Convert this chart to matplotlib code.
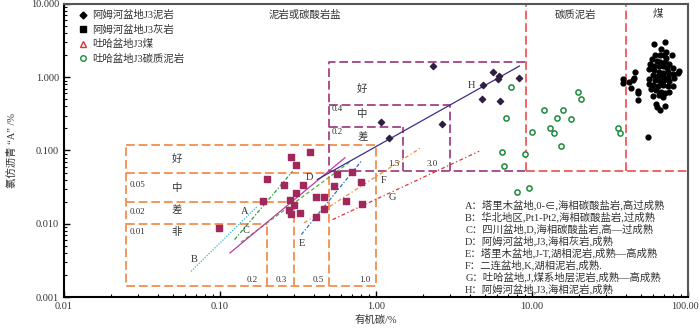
import matplotlib.pyplot as plt
from matplotlib.lines import Line2D
from matplotlib.ticker import LogLocator, FuncFormatter, NullFormatter
from matplotlib.transforms import ScaledTranslation

plt.rcParams['font.family'] = ['Liberation Serif', 'Noto Sans CJK SC']
plt.rcParams['axes.unicode_minus'] = False

# 阿姆河盆地J3泥岩 (diamonds)
mud_toc = [2.31, 5.65, 6.11, 6.01, 8.23, 4.87, 4.75, 6.26, 1.08, 2.65, 1.22]
mud_a = [1.41, 1.17, 1.04, 0.947, 0.975, 0.778, 0.506, 0.479, 0.244, 0.232, 0.15]

# 阿姆河盆地J3灰岩 (squares)
lime_toc = [0.285, 0.379, 0.305, 0.199, 0.256, 0.338, 0.305, 0.412, 0.466, 0.188, 0.279, 0.297,
            0.278, 0.287, 0.326, 0.412, 0.463, 0.099, 0.562, 0.535, 0.642, 0.705, 0.805, 0.81]
lime_a = [0.082, 0.096, 0.0624, 0.041, 0.0343, 0.0333, 0.026, 0.0233, 0.0233, 0.0207, 0.0209, 0.0179,
          0.0156, 0.0137, 0.0142, 0.0124, 0.016, 0.0088, 0.047, 0.0325, 0.0206, 0.0512, 0.0371, 0.0185]

# 吐哈盆地J3碳质泥岩 (open circles)
cm_toc = [7.33, 19.7, 20.6, 11.9, 15.7, 14.4, 6.81, 17.7, 13.0, 10.0, 13.9, 35.4, 36.5, 15.3,
          6.38, 9.06, 6.58, 7.96, 9.62]
cm_a = [0.733, 0.634, 0.508, 0.36, 0.352, 0.28, 0.274, 0.265, 0.204, 0.18, 0.171, 0.2, 0.175, 0.115,
        0.096, 0.089, 0.0618, 0.0267, 0.0312]

# 吐哈盆地J3煤 (black dots)
coal_toc = [60.8, 71.2, 67.1, 72.2, 61.7, 66.4, 78.8, 69.8, 72.2, 58.8, 63.6, 66.4, 71.2, 75.9,
            57.3, 60.8, 64.9, 69.2, 73.3, 80.5, 88.0, 85.8, 56.5, 60.8, 64.9, 68.7, 74.0, 79.6,
            59.3, 63.8, 68.7, 74.0, 81.7, 56.5, 61.7, 66.1, 70.5, 75.9, 56.0, 59.3, 63.8, 68.7,
            74.0, 79.6, 57.9, 62.3, 67.1, 71.4, 75.9, 59.9, 64.9, 69.5, 62.3, 63.2, 66.4, 71.2,
            38.1, 38.1, 41.6, 44.2, 45.9, 44.8, 43.1, 47.5, 47.5, 48.0, 55.1]
coal_a = [2.85, 3.03, 2.46, 2.24, 2.02, 2.02, 2.02, 1.98, 1.82, 1.76, 1.69, 1.60, 1.60, 1.50,
          1.50, 1.43, 1.44, 1.40, 1.33, 1.33, 1.22, 1.13, 1.30, 1.26, 1.19, 1.13, 1.16, 1.10,
          1.075, 1.04, 1.02, 1.02, 0.968, 0.938, 0.919, 0.90, 0.919, 0.90, 0.81, 0.785, 0.76, 0.785,
          0.76, 0.76, 0.685, 0.67, 0.637, 0.617, 0.637, 0.555, 0.573, 0.544, 0.432, 0.397, 0.357, 0.405,
          0.938, 0.827, 0.854, 0.919, 1.16, 0.99, 0.707, 0.657, 0.604, 0.49, 0.151]

# reference trend lines A-H (end points)
trend_names = ['A', 'B', 'C', 'D', 'E', 'F', 'G', 'H']
trend_x = [(0.124, 0.292), (0.0652, 0.173), (0.136, 0.675), (0.116, 0.632),
           (0.332, 0.805), (0.347, 1.94), (0.527, 4.59), (0.421, 8.3)]
trend_y = [(0.00608, 0.052), (0.00224, 0.0172), (0.00558, 0.069), (0.004, 0.0795),
           (0.00711, 0.0714), (0.0103, 0.109), (0.0114, 0.0978), (0.0402, 1.42)]
trend_label_x = [0.143, 0.0684, 0.148, 0.377, 0.334, 1.12, 1.28, 4.1]
trend_label_y = [0.0147, 0.00324, 0.00807, 0.0424, 0.00531, 0.0393, 0.0226, 0.773]
trend_colors = ['#2f9a45', '#35b5d5', '#55b040', '#c03aa0', '#2d6fc0', '#f08a30', '#e03535', '#3c2d8a']
trend_styles = [(0, (3, 1.5, 1, 1.5)), (0, (1, 1.2)), (0, (3, 2)), '-',
                (0, (3, 1.5, 1, 1.5)), (0, (3, 2, 1, 2)), (0, (3, 2, 1, 2)), '-']

# evaluation boxes
carb_toc = [0.2, 0.3, 0.5]
carb_a = [0.01, 0.02, 0.05]
carb_left, carb_bottom, carb_top, carb_right = 0.025, 0.0014, 0.118, 1.0
mud_box_toc = [1.5, 3.0]
mud_box_a = [0.21, 0.42]
mud_left, mud_bottom, mud_top, mud_right = 0.5, 0.052, 1.6, 9.0
rock_split = [9.2, 40.0]

notes = [
    'A：塔里木盆地,0-∈,海相碳酸盐岩,高过成熟',
    'B：华北地区,Pt1-Pt2,海相碳酸盐岩,过成熟',
    'C：四川盆地,D,海相碳酸盐岩,高—过成熟',
    'D：阿姆河盆地,J3,海相灰岩,成熟',
    'E：塔里木盆地,J-T,湖相泥岩,成熟—高成熟',
    'F：二连盆地,K,湖相泥岩,成熟.',
    'G：吐哈盆地,J,煤系地层泥岩,成熟—高成熟',
    'H：阿姆河盆地,J3,海相泥岩,成熟',
]

ORANGE = '#f4965a'
PURPLE = '#a8508f'
RED = '#f06464'
TXT = '#333333'

fig = plt.figure(figsize=(7, 3.28), dpi=100)
ax = fig.add_axes([0.0914, 0.0945, 0.8915, 0.8935])
ax.set_xscale('log')
ax.set_yscale('log')
ax.set_xlim(0.01, 100)
ax.set_ylim(0.001, 10)

dash = dict(lw=1.4, linestyle=(0, (4.5, 2)))

# orange carbonate boxes
for t, a in zip(carb_toc, carb_a):
    ax.plot([carb_left, t], [a, a], color=ORANGE, **dash)
    ax.plot([t, t], [carb_bottom, a], color=ORANGE, **dash)
ax.plot([carb_left, carb_right, carb_right, carb_left, carb_left],
        [carb_top, carb_top, carb_bottom, carb_bottom, carb_top], color=ORANGE, **dash)

# purple mudstone boxes
for t, a in zip(mud_box_toc, mud_box_a):
    ax.plot([mud_left, t], [a, a], color=PURPLE, **dash)
    ax.plot([t, t], [mud_bottom, a], color=PURPLE, **dash)
ax.plot([mud_right, mud_left, mud_left, mud_right],
        [mud_top, mud_top, mud_bottom, mud_bottom], color=PURPLE, **dash)

# red lithology split
for t in rock_split:
    ax.plot([t, t], [mud_bottom, 10], color=RED, **dash)
ax.plot([rock_split[0], 100], [mud_bottom, mud_bottom], color=RED, **dash)

# trend lines
for i in range(len(trend_names)):
    ax.plot(trend_x[i], trend_y[i], color=trend_colors[i], linestyle=trend_styles[i], lw=0.9)
    ax.text(trend_label_x[i], trend_label_y[i], trend_names[i], fontsize=7.5, color=TXT,
            ha='center', va='center')

# data
ax.scatter(lime_toc, lime_a, marker='s', s=14, color='#a0285a', zorder=3)
ax.scatter(mud_toc, mud_a, marker='D', s=10, color='#2e1f40', zorder=3)
ax.scatter(cm_toc, cm_a, marker='o', s=14, facecolors='white', edgecolors='#1e8a3c',
           linewidths=1.1, zorder=3)
ax.scatter(coal_toc, coal_a, marker='o', s=12, color='black', zorder=3)

# box labels
for yv, s in zip([0.077, 0.0303, 0.0151, 0.00766], ['好', '中', '差', '非']):
    ax.text(0.053, yv, s, fontsize=7.5, color=TXT, ha='center', va='center')
for yv, s in zip([0.0333, 0.01435, 0.00766], ['0.05', '0.02', '0.01']):
    ax.text(0.0262, yv, s, fontsize=6.5, color=TXT, ha='left', va='center')
for xv, s in zip([0.16, 0.246, 0.428, 0.85], ['0.2', '0.3', '0.5', '1.0']):
    ax.text(xv, 0.00173, s, fontsize=6.5, color=TXT, ha='center', va='center')
for yv, s in zip([0.697, 0.31, 0.149], ['好', '中', '差']):
    ax.text(0.817, yv, s, fontsize=7.5, color=TXT, ha='center', va='center')
for yv, s in zip([0.363, 0.176], ['0.4', '0.2']):
    ax.text(0.519, yv, s, fontsize=6.5, color=TXT, ha='left', va='center')
for xv, s in zip([1.3, 2.29], ['1.5', '3.0']):
    ax.text(xv, 0.0644, s, fontsize=6.5, color=TXT, ha='center', va='center')

ax.text(0.35, 7.2, '泥岩或碳酸岩盐', fontsize=7.5, color=TXT, ha='center', va='center')
ax.text(19.1, 7.2, '碳质泥岩', fontsize=7.5, color=TXT, ha='center', va='center')
ax.text(63.8, 7.2, '煤', fontsize=7.5, color=TXT, ha='center', va='center')

ax.text(0.643, 0.333, '\n'.join(notes), transform=ax.transAxes, fontsize=7.5, color=TXT,
        ha='left', va='top', linespacing=1.13)

# legend
handles = [
    Line2D([], [], marker='D', ls='', color='black', markersize=3.5),
    Line2D([], [], marker='s', ls='', color='black', markersize=4),
    Line2D([], [], marker='^', ls='', markerfacecolor='white', markeredgecolor='#e83030', markersize=5),
    Line2D([], [], marker='o', ls='', markerfacecolor='white', markeredgecolor='#1e8a3c', markersize=4),
]
labels = ['阿姆河盆地J3泥岩', '阿姆河盆地J3灰岩', '吐哈盆地J3煤', '吐哈盆地J3碳质泥岩']
ax.legend(handles, labels, loc='upper left', bbox_to_anchor=(0.012, 1.0), frameon=False,
          fontsize=7.5, handlelength=1.0, handletextpad=0.4, labelspacing=0.42,
          borderaxespad=0.2, labelcolor=TXT)

# axes cosmetics
ax.xaxis.set_major_locator(LogLocator(base=10, numticks=10))
ax.yaxis.set_major_locator(LogLocator(base=10, numticks=10))
ax.xaxis.set_minor_locator(LogLocator(base=10, subs=range(2, 10), numticks=20))
ax.yaxis.set_minor_locator(LogLocator(base=10, subs=range(2, 10), numticks=20))
ax.xaxis.set_major_formatter(FuncFormatter(lambda v, p: '%.2f' % v))
ax.yaxis.set_major_formatter(FuncFormatter(lambda v, p: '%.3f' % v))
ax.xaxis.set_minor_formatter(NullFormatter())
ax.yaxis.set_minor_formatter(NullFormatter())
ax.tick_params(which='major', direction='in', length=4.5, width=1.0, labelsize=7.5,
               labelcolor=TXT, top=False, right=False)
ax.tick_params(which='minor', direction='in', length=2.5, width=0.8, top=False, right=False)
for side in ['left', 'bottom']:
    ax.spines[side].set_linewidth(1.5)
    ax.spines[side].set_color('black')
for side in ['top', 'right']:
    ax.spines[side].set_linewidth(1.5)
    ax.spines[side].set_color('#555555')

ax.set_xlabel('有机碳/%', fontsize=7.5, color=TXT, labelpad=3)
ax.set_ylabel('氯仿沥青 “A” /%', fontsize=7.5, color=TXT, labelpad=10)

# keep the last x tick label inside the canvas
fig.canvas.draw()
last = [lab for lab in ax.get_xticklabels() if lab.get_text() == '100.00']
for lab in last:
    lab.set_transform(lab.get_transform() + ScaledTranslation(-2 / 72, 0, fig.dpi_scale_trans))
    lab.set_fontsize(7.2)

fig.savefig('out.png', dpi=100)
